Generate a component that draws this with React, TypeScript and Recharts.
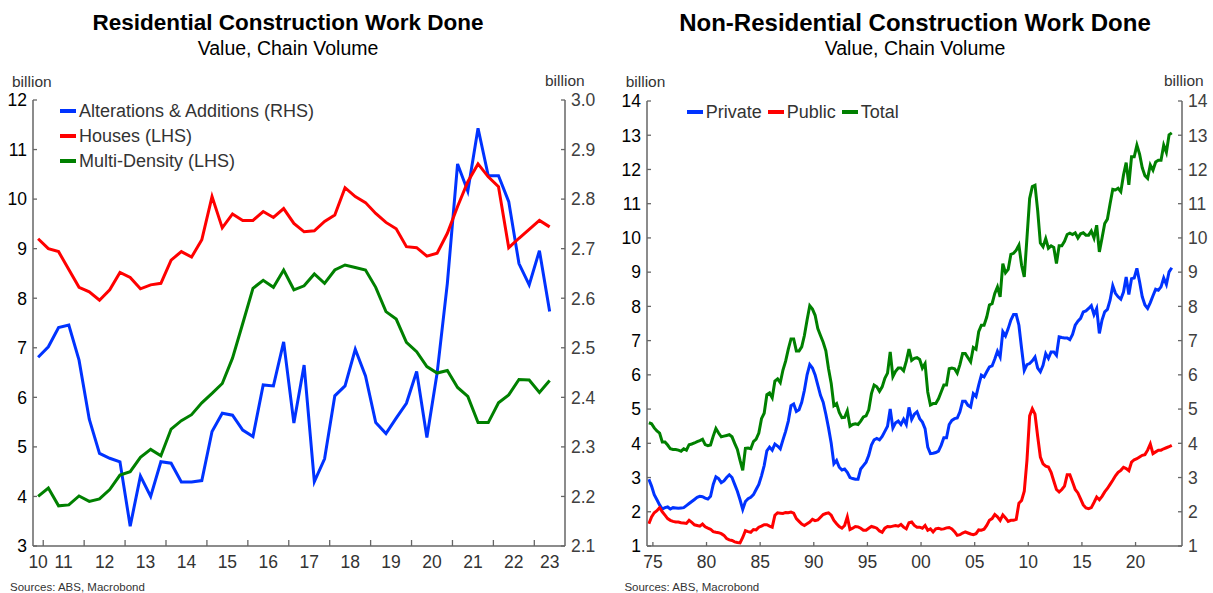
import { LineChart, Line, XAxis, YAxis, Legend } from 'recharts';

const FONT = '"Liberation Sans", Arial, Helvetica, sans-serif';
const AXIS_COLOR = '#666666';
const BLUE = '#0033ff';
const RED = '#ff0000';
const GREEN = '#008000';

// Residential: quarterly, Q4 2010 .. Q2 2023 (plotted mid-quarter)
const RES_FIRST_QUARTER = 2010.875;
const RES_DOMAIN = [2010.75, 2023.75];
const RES_TICK_MARKS = [2011, 2012, 2013, 2014, 2015, 2016, 2017, 2018, 2019, 2020, 2021, 2022, 2023];
const RES_LHS_TICKS = [3, 4, 5, 6, 7, 8, 9, 10, 11, 12];
const RES_RHS_TICKS = [2.1, 2.2, 2.3, 2.4, 2.5, 2.6, 2.7, 2.8, 2.9, 3.0];

const ALTERATIONS = [
  2.481, 2.502, 2.541, 2.546, 2.475, 2.356, 2.287, 2.277, 2.27, 2.14,
  2.241, 2.2, 2.27, 2.267, 2.229, 2.229, 2.232, 2.331, 2.368, 2.364,
  2.334, 2.321, 2.425, 2.423, 2.512, 2.348, 2.465, 2.23, 2.276, 2.403,
  2.423, 2.497, 2.443, 2.349, 2.327, 2.358, 2.388, 2.452, 2.319, 2.449,
  2.63, 2.871, 2.816, 2.943, 2.847, 2.847, 2.795, 2.67, 2.627, 2.696,
  2.573,
];
const HOUSES = [
  9.2, 9.0, 8.94, 8.58, 8.22, 8.13, 7.96, 8.17, 8.52, 8.42,
  8.19, 8.27, 8.3, 8.77, 8.94, 8.83, 9.18, 10.05, 9.42, 9.7,
  9.57, 9.57, 9.75, 9.63, 9.81, 9.51, 9.34, 9.36, 9.55, 9.68,
  10.23, 10.05, 9.93, 9.71, 9.53, 9.4, 9.04, 9.02, 8.85, 8.91,
  9.31, 9.85, 10.35, 10.71, 10.45, 10.25, 9.02, 9.21, 9.39, 9.57,
  9.44,
];
const MULTI_DENSITY = [
  4.0, 4.17, 3.81, 3.83, 4.01, 3.9, 3.95, 4.14, 4.43, 4.5,
  4.79, 4.95, 4.82, 5.36, 5.53, 5.65, 5.89, 6.08, 6.28, 6.79,
  7.49, 8.2, 8.36, 8.22, 8.57, 8.17, 8.25, 8.49, 8.3, 8.57,
  8.67, 8.62, 8.57, 8.22, 7.73, 7.58, 7.11, 6.92, 6.62, 6.49,
  6.54, 6.2, 6.02, 5.49, 5.49, 5.89, 6.05, 6.36, 6.35, 6.1,
  6.34,
];

// Non-residential: quarterly, Q3 1974 .. Q2 2023
const NR_FIRST_QUARTER = 1974.625;
const NR_DOMAIN = [1974.45, 2024.33];
const NR_YEAR_TICKS = [1975, 1980, 1985, 1990, 1995, 2000, 2005, 2010, 2015, 2020];
const NR_Y_TICKS = [1, 2, 3, 4, 5, 6, 7, 8, 9, 10, 11, 12, 13, 14];

const PRIVATE = [
  2.95, 2.75, 2.5, 2.35, 2.2, 2.08, 2.12, 2.14, 2.08, 2.12,
  2.11, 2.1, 2.11, 2.12, 2.18, 2.24, 2.3, 2.36, 2.42, 2.45,
  2.44, 2.4, 2.37, 2.45, 2.8, 3.02, 2.97, 2.85, 2.9, 3.0,
  3.08, 3.0, 2.8, 2.6, 2.35, 2.07, 2.3, 2.38, 2.42, 2.5,
  2.65, 2.8, 3.05, 3.35, 3.78, 3.89, 3.8, 3.98, 3.92, 3.84,
  4.1, 4.35, 4.65, 5.1, 5.15, 4.93, 4.98, 5.2, 5.55, 6.0,
  6.3, 6.2, 6.0, 5.7, 5.4, 5.2, 4.85, 4.45, 4.0, 3.4,
  3.5, 3.3, 3.22, 3.25, 3.15, 3.0, 2.97, 2.95, 2.95, 3.25,
  3.35, 3.45, 3.65, 3.95, 4.1, 4.14, 4.1, 4.2, 4.35, 4.5,
  5.0, 4.45, 4.6, 4.65, 4.55, 4.7, 4.55, 5.05, 4.7, 4.85,
  4.92, 4.72, 4.62, 4.43, 3.89, 3.7, 3.71, 3.73, 3.77, 3.94,
  4.16, 4.16, 4.55, 4.67, 4.72, 4.74, 4.92, 5.23, 5.23, 5.11,
  5.06, 5.45, 5.37, 5.7, 5.99, 5.94, 6.09, 6.23, 6.26, 6.46,
  6.69, 6.52, 7.26, 7.14, 7.35, 7.6, 7.76, 7.76, 7.45, 6.77,
  6.13, 6.3, 6.33, 6.41, 6.52, 6.2, 6.09, 6.28, 6.62, 6.48,
  6.67, 6.67, 6.57, 7.11, 7.09, 7.08, 7.08, 7.03, 7.18, 7.45,
  7.57, 7.65, 7.84, 7.87, 7.94, 8.02, 7.76, 7.94, 7.21, 7.6,
  7.84, 7.91, 8.18, 8.6, 8.38, 8.28, 8.21, 8.42, 8.86, 8.35,
  8.81, 8.83, 9.11, 8.72, 8.28, 8.04, 7.94, 8.11, 8.31, 8.5,
  8.47, 8.57, 8.83, 8.64, 9.01, 9.13,
];
const PUBLIC = [
  1.65, 1.85, 1.97, 2.03, 2.12, 2.0, 1.9, 1.8, 1.75, 1.72,
  1.7, 1.7, 1.68, 1.67, 1.66, 1.75, 1.69, 1.62, 1.6, 1.58,
  1.64, 1.56, 1.52, 1.49, 1.42, 1.4, 1.39, 1.36, 1.31, 1.22,
  1.18, 1.16, 1.12, 1.1, 1.09, 1.25, 1.45, 1.42, 1.4, 1.48,
  1.47, 1.55, 1.58, 1.62, 1.62, 1.58, 1.55, 1.9, 1.97, 1.96,
  1.95, 1.98, 1.97, 1.99, 1.96, 1.8, 1.72, 1.64, 1.6, 1.65,
  1.7, 1.78, 1.74, 1.76, 1.84, 1.92, 1.95, 1.97, 1.9, 1.75,
  1.65, 1.57, 1.52, 1.6, 1.85, 1.48, 1.52, 1.57, 1.56, 1.52,
  1.46, 1.46, 1.52, 1.57, 1.55, 1.52, 1.44, 1.4, 1.52, 1.57,
  1.56, 1.58, 1.6, 1.58, 1.63, 1.55, 1.5, 1.68, 1.7, 1.6,
  1.55, 1.55, 1.52, 1.6, 1.46, 1.5, 1.41, 1.5, 1.52, 1.49,
  1.5, 1.53, 1.54, 1.5, 1.42, 1.31, 1.33, 1.38, 1.41, 1.38,
  1.35, 1.33, 1.36, 1.47, 1.46, 1.49, 1.6, 1.75, 1.8, 1.92,
  1.85, 1.75, 1.91, 1.82, 1.72, 1.75, 1.75, 1.78, 2.25, 2.33,
  2.6, 3.5, 4.8, 5.01, 4.85, 4.2, 3.6, 3.4, 3.33, 3.31,
  3.15, 2.9, 2.65, 2.58, 2.65, 2.75, 3.08, 3.08, 2.87, 2.65,
  2.55, 2.38, 2.2, 2.11, 2.09, 2.12, 2.27, 2.43, 2.35, 2.45,
  2.58, 2.68, 2.8, 2.92, 3.05, 3.15, 3.21, 3.3, 3.26, 3.2,
  3.45, 3.52, 3.55, 3.6, 3.65, 3.67, 3.8, 3.98, 3.7, 3.75,
  3.8, 3.8, 3.84, 3.87, 3.9, 3.94,
];
const TOTAL = [
  4.6, 4.57, 4.45, 4.36, 4.3, 4.04, 4.04, 3.95, 3.84, 3.82,
  3.82, 3.8, 3.77, 3.84, 3.8, 3.96, 3.98, 4.01, 4.05, 4.08,
  4.12, 3.96, 3.93, 3.95, 4.21, 4.43, 4.3, 4.19, 4.21, 4.23,
  4.25, 4.19, 4.0, 3.82, 3.5, 3.21, 3.85, 3.86, 3.84, 4.05,
  4.12, 4.3, 4.72, 4.88, 5.42, 5.47, 5.33, 5.82, 5.88, 5.77,
  6.14, 6.4, 6.75, 7.05, 7.05, 6.7, 6.7, 6.82, 7.15, 7.6,
  8.02, 7.92, 7.74, 7.35, 7.15, 6.95, 6.7, 6.18, 5.75, 5.1,
  5.16, 4.9, 4.75, 4.76, 4.95, 4.5, 4.55, 4.57, 4.55, 4.65,
  4.77, 4.8, 4.98, 5.45, 5.7, 5.65, 5.52, 5.65, 5.9, 6.05,
  6.67, 5.95, 6.1, 6.2, 6.2, 6.12, 6.4, 6.75, 6.42, 6.48,
  6.5, 6.45, 6.2, 6.33, 5.5, 5.12, 5.16, 5.16, 5.3, 5.5,
  5.7, 5.7, 6.18, 6.2, 6.18, 6.05, 6.3, 6.62, 6.62, 6.5,
  6.38, 6.8, 6.75, 7.26, 7.45, 7.45, 7.69, 8.04, 8.08, 8.38,
  8.57, 8.28, 9.25, 8.98, 9.08, 9.52, 9.55, 9.64, 9.79, 9.2,
  8.86, 10.0, 11.15, 11.5, 11.54, 10.8, 9.85, 9.74, 9.98, 9.7,
  9.77, 9.72, 9.25, 9.77, 9.77, 9.9, 10.1, 10.14, 10.1, 10.15,
  10.0, 10.12, 10.15, 10.08, 10.08, 10.2, 10.0, 10.37, 9.59, 10.0,
  10.42, 10.55, 11.0, 11.42, 11.4, 11.45, 11.35, 11.84, 12.2, 11.55,
  12.37, 12.37, 12.71, 12.45, 12.05, 11.82, 11.74, 12.13, 11.98, 12.22,
  12.27, 12.27, 12.71, 12.5, 13.01, 13.07,
];

const resData = HOUSES.map((houses, i) => ({
  t: RES_FIRST_QUARTER + i * 0.25,
  alterations: ALTERATIONS[i],
  houses,
  multi: MULTI_DENSITY[i],
}));

const nrData = PRIVATE.map((priv, i) => ({
  t: NR_FIRST_QUARTER + i * 0.25,
  private: priv,
  public: PUBLIC[i],
  total: TOTAL[i],
}));

const RES_W = 600;
const RES_LHS_W = 33;
const RES_RHS_W = 35;
const RES_PX_PER_YEAR = (RES_W - RES_LHS_W - RES_RHS_W) / (RES_DOMAIN[1] - RES_DOMAIN[0]);

const twoDigitYear = (v: number) => String(Math.floor(v) % 100).padStart(2, '0');

// tick at each year boundary; year label centred on the visible part of the year
const ResYearTick = (props: any) => {
  const { x, y, payload } = props;
  const year = payload.value;
  const labels = [
    { text: twoDigitYear(year), cx: x + ((Math.min(year + 1, RES_DOMAIN[1]) - year) / 2) * RES_PX_PER_YEAR },
  ];
  if (year === RES_TICK_MARKS[0]) {
    const from = Math.max(year - 1, RES_DOMAIN[0]);
    labels.push({ text: twoDigitYear(year - 1), cx: x - ((year - from) / 2) * RES_PX_PER_YEAR });
  }
  return (
    <g>
      <line x1={x} x2={x} y1={y} y2={y - 6} stroke={AXIS_COLOR} strokeWidth={1.3} />
      {labels.map((l) => (
        <text key={l.text} x={l.cx} y={y + 22} textAnchor="middle" fontSize={17.5} fontFamily={FONT} fill="#333">
          {l.text}
        </text>
      ))}
    </g>
  );
};

const YTick = (props: any) => {
  const { x, y, payload, side, color, digits } = props;
  const axisX = side === 'left' ? x + 6 : x - 6;
  const inward = side === 'left' ? 4 : -4;
  const value = digits ? Number(payload.value).toFixed(digits) : payload.value;
  return (
    <g>
      <line x1={axisX} x2={axisX + inward} y1={y} y2={y} stroke={AXIS_COLOR} strokeWidth={1.3} />
      <text
        x={x}
        y={y}
        dy="0.36em"
        textAnchor={side === 'left' ? 'end' : 'start'}
        fontSize={17.5}
        fontFamily={FONT}
        fill={color}
      >
        {value}
      </text>
    </g>
  );
};

const renderLegend = (direction: 'row' | 'column') => (props: any) => (
  <div style={{ display: 'flex', flexDirection: direction, columnGap: 6 }}>
    {(props.payload || []).map((entry: any) => (
      <div
        key={entry.value}
        style={{ display: 'flex', alignItems: 'center', height: direction === 'column' ? 24.7 : 22 }}
      >
        <span style={{ display: 'inline-block', width: 16, height: 4, background: entry.color, marginRight: 3 }} />
        <span style={{ fontSize: 18, lineHeight: '22px', color: '#333', fontFamily: FONT }}>{entry.value}</span>
      </div>
    ))}
  </div>
);

const Text = ({ left, top, size, children, bold, color, width, align }: any) => (
  <div
    style={{
      position: 'absolute',
      left,
      top,
      width,
      textAlign: align || 'left',
      fontSize: size,
      lineHeight: `${Math.round(size * 1.22)}px`,
      fontWeight: bold ? 'bold' : 'normal',
      color: color || '#000',
      whiteSpace: 'nowrap',
    }}
  >
    {children}
  </div>
);

const ResidentialChart = () => (
  <div style={{ position: 'absolute', left: 0, top: 0, width: RES_W, height: 593 }}>
    <Text left={0} top={9} width={576} align="center" size={22.5} bold>
      Residential Construction Work Done
    </Text>
    <Text left={0} top={36} width={576} align="center" size={19.5}>
      Value, Chain Volume
    </Text>
    <Text left={12} top={72} size={15.5} color="#333">billion</Text>
    <Text left={545} top={70.5} size={15.5} color="#333">billion</Text>
    <div style={{ position: 'absolute', left: 0, top: 0 }}>
      <LineChart width={RES_W} height={593} data={resData} margin={{ top: 100, right: 0, bottom: 0, left: 0 }}>
        <XAxis
          dataKey="t"
          type="number"
          domain={RES_DOMAIN}
          allowDataOverflow
          ticks={RES_TICK_MARKS}
          interval={0}
          height={47}
          tickSize={0}
          tickMargin={0}
          tickLine={false}
          axisLine={{ stroke: AXIS_COLOR, strokeWidth: 1.5 }}
          tick={(p: any) => <ResYearTick {...p} />}
        />
        <YAxis
          yAxisId="lhs"
          orientation="left"
          width={RES_LHS_W}
          domain={[3, 12]}
          allowDataOverflow
          ticks={RES_LHS_TICKS}
          interval={0}
          tickSize={0}
          tickMargin={6}
          tickLine={false}
          axisLine={{ stroke: AXIS_COLOR, strokeWidth: 1.5 }}
          tick={(p: any) => <YTick {...p} side="left" color="#000" />}
        />
        <YAxis
          yAxisId="rhs"
          orientation="right"
          width={RES_RHS_W}
          domain={[2.1, 3.0]}
          allowDataOverflow
          ticks={RES_RHS_TICKS}
          interval={0}
          tickSize={0}
          tickMargin={6}
          tickLine={false}
          axisLine={{ stroke: AXIS_COLOR, strokeWidth: 1.5 }}
          tick={(p: any) => <YTick {...p} side="right" color="#404040" digits={1} />}
        />
        <Legend
          layout="vertical"
          align="center"
          verticalAlign="middle"
          content={renderLegend('column')}
          wrapperStyle={{ left: 60, top: 99, width: 'auto' }}
        />
        <Line
          yAxisId="rhs"
          type="linear"
          dataKey="alterations"
          name="Alterations & Additions (RHS)"
          stroke={BLUE}
          strokeWidth={3}
          dot={false}
          activeDot={false}
          isAnimationActive={false}
        />
        <Line
          yAxisId="lhs"
          type="linear"
          dataKey="houses"
          name="Houses (LHS)"
          stroke={RED}
          strokeWidth={3}
          dot={false}
          activeDot={false}
          isAnimationActive={false}
        />
        <Line
          yAxisId="lhs"
          type="linear"
          dataKey="multi"
          name="Multi-Density (LHS)"
          stroke={GREEN}
          strokeWidth={3}
          dot={false}
          activeDot={false}
          isAnimationActive={false}
        />
      </LineChart>
    </div>
    <Text left={10} top={580} size={11.5} color="#333">Sources: ABS, Macrobond</Text>
  </div>
);

const NonResidentialChart = () => (
  <div style={{ position: 'absolute', left: 605, top: 0, width: 608, height: 593 }}>
    <Text left={0} top={8} width={620} align="center" size={24} bold>
      Non-Residential Construction Work Done
    </Text>
    <Text left={0} top={36} width={620} align="center" size={19.5}>
      Value, Chain Volume
    </Text>
    <Text left={20.7} top={72} size={15.5} color="#333">billion</Text>
    <Text left={559} top={70.5} size={15.5} color="#333">billion</Text>
    <div style={{ position: 'absolute', left: 0, top: 0 }}>
      <LineChart width={608} height={593} data={nrData} margin={{ top: 101, right: 0, bottom: 0, left: 0 }}>
        <XAxis
          dataKey="t"
          type="number"
          domain={NR_DOMAIN}
          allowDataOverflow
          ticks={NR_YEAR_TICKS}
          interval={0}
          height={47}
          tickSize={0}
          tickMargin={0}
          tickLine={false}
          axisLine={{ stroke: AXIS_COLOR, strokeWidth: 1.5 }}
          tick={(p: any) => (
            <g>
              <line x1={p.x} x2={p.x} y1={p.y} y2={p.y - 4} stroke={AXIS_COLOR} strokeWidth={1.3} />
              <text x={p.x} y={p.y + 22} textAnchor="middle" fontSize={17.5} fontFamily={FONT} fill="#333">
                {twoDigitYear(p.payload.value)}
              </text>
            </g>
          )}
        />
        <YAxis
          yAxisId="lhs"
          orientation="left"
          width={42}
          domain={[1, 14]}
          allowDataOverflow
          ticks={NR_Y_TICKS}
          interval={0}
          tickSize={0}
          tickMargin={6}
          tickLine={false}
          axisLine={{ stroke: AXIS_COLOR, strokeWidth: 1.5 }}
          tick={(p: any) => <YTick {...p} side="left" color="#000" />}
        />
        <YAxis
          yAxisId="rhs"
          orientation="right"
          width={31}
          domain={[1, 14]}
          allowDataOverflow
          ticks={NR_Y_TICKS}
          interval={0}
          tickSize={0}
          tickMargin={6}
          tickLine={false}
          axisLine={{ stroke: AXIS_COLOR, strokeWidth: 1.5 }}
          tick={(p: any) => <YTick {...p} side="right" color="#404040" />}
        />
        <Legend
          layout="vertical"
          align="center"
          verticalAlign="middle"
          content={renderLegend('row')}
          wrapperStyle={{ left: 81.7, top: 100.7, width: 'auto' }}
        />
        <Line
          yAxisId="lhs"
          type="linear"
          dataKey="private"
          name="Private"
          stroke={BLUE}
          strokeWidth={3}
          dot={false}
          activeDot={false}
          isAnimationActive={false}
        />
        <Line
          yAxisId="lhs"
          type="linear"
          dataKey="public"
          name="Public"
          stroke={RED}
          strokeWidth={3}
          dot={false}
          activeDot={false}
          isAnimationActive={false}
        />
        <Line
          yAxisId="lhs"
          type="linear"
          dataKey="total"
          name="Total"
          stroke={GREEN}
          strokeWidth={3}
          dot={false}
          activeDot={false}
          isAnimationActive={false}
        />
      </LineChart>
    </div>
    <Text left={19.4} top={580} size={11.5} color="#333">Sources: ABS, Macrobond</Text>
  </div>
);

export default function App() {
  return (
    <div
      style={{
        position: 'absolute',
        left: 0,
        top: 0,
        width: 1213,
        height: 593,
        background: '#ffffff',
        fontFamily: FONT,
        overflow: 'hidden',
      }}
    >
      <ResidentialChart />
      <NonResidentialChart />
    </div>
  );
}
